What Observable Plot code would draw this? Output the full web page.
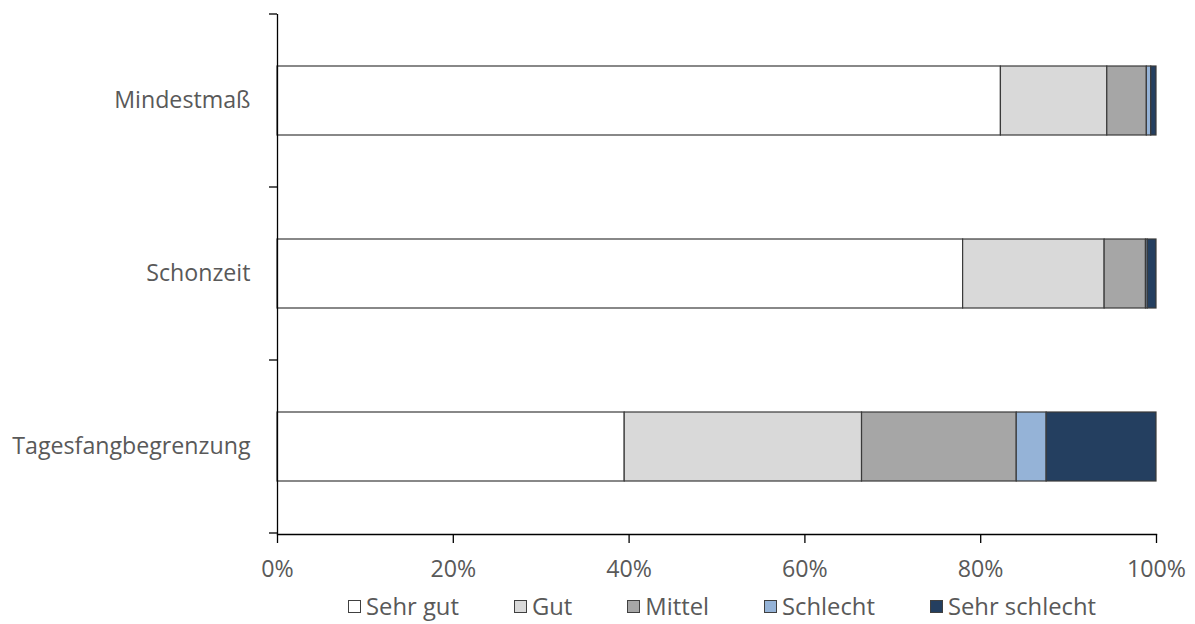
<!DOCTYPE html>
<html>
<head>
<meta charset="utf-8">
<script src="https://cdn.jsdelivr.net/npm/d3@7"></script>
<script src="https://cdn.jsdelivr.net/npm/@observablehq/plot@0.6"></script>
<style>
  html, body { margin: 0; padding: 0; background: #fff; }
  #chart { width: 1195px; }
  .legend { display: flex; align-items: center; padding-left: 348px; height: 36px;
    font-family: "Open Sans", sans-serif; font-size: 23.8px; color: #595959; }
  .legend .item { display: flex; align-items: center; margin-right: 55px; }
  .legend .sw { width: 13px; height: 13px; border: 1px solid #404040; margin-right: 5px; box-sizing: border-box; }
</style>
</head>
<body>
<div id="chart"></div>
<script>
const categories = ["Mindestmaß", "Schonzeit", "Tagesfangbegrenzung"];
const levels = ["Sehr gut", "Gut", "Mittel", "Schlecht", "Sehr schlecht"];
const colors = ["#ffffff", "#d9d9d9", "#a6a6a6", "#95b3d7", "#243f60"];
const sehrGut      = [82.3, 78.0, 39.5];
const gut          = [12.1, 16.1, 27.0];
const mittel       = [4.5, 4.7, 17.6];
const schlecht     = [0.5, 0.2, 3.4];
const sehrSchlecht = [0.6, 1.0, 12.5];
const xTicks = [0, 20, 40, 60, 80, 100];

const series = [sehrGut, gut, mittel, schlecht, sehrSchlecht];
const data = [];
levels.forEach((lev, j) => categories.forEach((cat, i) => data.push({cat, level: lev, value: series[j][i]})));

const fontFamily = '"Open Sans", sans-serif';
const chart = Plot.plot({
  width: 1195,
  height: 588,
  marginLeft: 277,
  marginRight: 39,
  marginTop: 14,
  marginBottom: 54,
  style: {fontFamily, fontSize: "23.2px", color: "#000", background: "#fff"},
  x: {domain: [0, 100]},
  y: {domain: categories, paddingInner: 0.6, paddingOuter: 0.3},
  color: {domain: levels, range: colors},
  marks: [
    Plot.barX(data, Plot.stackX({x: "value", y: "cat", fill: "level", order: levels,
      stroke: "#3a3a3a", strokeWidth: 1.2})),
    Plot.ruleX([0], {stroke: "#000", strokeWidth: 1.3}),
    Plot.frame({anchor: "bottom", stroke: "#000", strokeWidth: 1.3}),
    Plot.axisX({ticks: xTicks, tickSize: 9, tickPadding: 17, tickFormat: d => d + "%",
      stroke: "#000", fill: "#595959", label: null, strokeWidth: 1.3}),
    Plot.axisY({tickSize: 0, tickPadding: 27, fill: "#595959", label: null})
  ]
});

// band-boundary tick marks on the y axis, derived from the band scale
const ys = chart.scale("y");
const xs = chart.scale("x");
const x0 = xs.apply(0);
const half = (ys.step - ys.bandwidth) / 2;
const bounds = categories.map(c => ys.apply(c) - half);
bounds.push(ys.apply(categories[categories.length - 1]) + ys.bandwidth + half);
d3.select(chart).append("g")
  .selectAll("line").data(bounds).join("line")
  .attr("x1", x0 - 8).attr("x2", x0)
  .attr("y1", d => d).attr("y2", d => d)
  .attr("stroke", "#000").attr("stroke-width", 1.3);

document.getElementById("chart").appendChild(chart);

const legend = d3.select("body").append("div").attr("class", "legend");
levels.forEach((lev, j) => {
  const it = legend.append("div").attr("class", "item");
  it.append("div").attr("class", "sw").style("background", colors[j]);
  it.append("span").text(lev);
});
</script>
</body>
</html>
